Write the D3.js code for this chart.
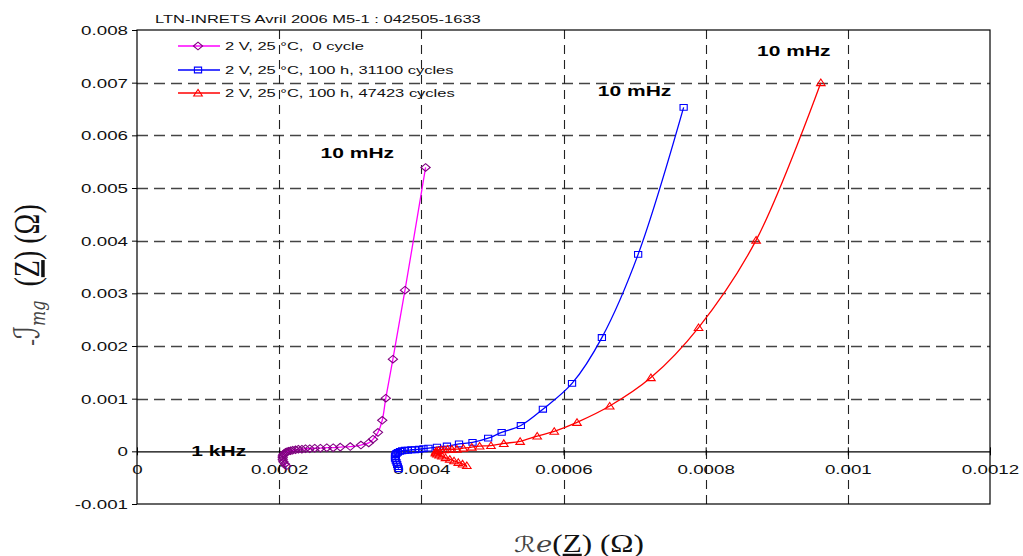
<!DOCTYPE html>
<html><head><meta charset="utf-8">
<script src="https://cdn.jsdelivr.net/npm/d3@7"></script>
<style>body{margin:0;background:#fff}svg{display:block}text{font-family:Arial,"Liberation Sans",sans-serif;white-space:pre}</style>
</head><body>
<script>
// ---- data ----
const chartTitle = "LTN-INRETS Avril 2006 M5-1 : 042505-1633";
const seriesNames = ["2 V, 25 °C,  0 cycle", "2 V, 25 °C, 100 h, 31100 cycles", "2 V, 25 °C, 100 h, 47423 cycles"];
const xTicks = [0, 0.0002, 0.0004, 0.0006, 0.0008, 0.001, 0.0012];
const xTickLabels = ["0", "0.0002", "0.0004", "0.0006", "0.0008", "0.001", "0.0012"];
const yTicks = [-0.001, 0, 0.001, 0.002, 0.003, 0.004, 0.005, 0.006, 0.007, 0.008];
const yTickLabels = ["-0.001", "0", "0.001", "0.002", "0.003", "0.004", "0.005", "0.006", "0.007", "0.008"];
// Re(Z), -Im(Z) in ohm, from 1 kHz to 10 mHz
const s0Re = [0.000210,0.000208,0.000206,0.000205,0.000205,0.000205,0.000206,0.000207,0.000209,0.000211,0.000213,0.000216,0.000219,0.000223,0.000227,0.000232,0.000237,0.000243,0.000250,0.000258,0.000267,0.000276,0.000286,0.000300,0.000315,0.000326,0.000332,0.000339,0.000345,0.000350,0.000360,0.000377,0.000406];
const s0Im = [-0.00028,-0.00024,-0.00020,-0.00016,-0.00012,-0.00009,-0.00006,-0.00004,-0.00002,-0.00001,0.00000,0.00001,0.00002,0.00003,0.00004,0.00004,0.00005,0.00005,0.00006,0.00006,0.00007,0.00007,0.00008,0.00009,0.00012,0.00016,0.00023,0.00036,0.00059,0.00101,0.00175,0.00306,0.00539];
const s1Re = [0.000368,0.000367,0.000366,0.000365,0.000364,0.000363,0.000363,0.000364,0.000365,0.000367,0.000370,0.000373,0.000377,0.000381,0.000386,0.000391,0.000397,0.000403,0.000410,0.000422,0.000436,0.000453,0.000472,0.000494,0.000513,0.000540,0.000571,0.000612,0.000654,0.000705,0.000769];
const s1Im = [-0.00033,-0.00029,-0.00025,-0.00021,-0.00017,-0.00013,-0.00009,-0.00006,-0.00004,-0.00002,0.00000,0.00001,0.00002,0.00002,0.00003,0.00003,0.00004,0.00005,0.00006,0.00008,0.00010,0.00014,0.00017,0.00025,0.00036,0.00049,0.00080,0.00129,0.00216,0.00374,0.00653];
const s2Re = [0.000464,0.000458,0.000452,0.000446,0.000440,0.000434,0.000429,0.000425,0.000422,0.000420,0.000420,0.000421,0.000424,0.000428,0.000432,0.000437,0.000443,0.000450,0.000459,0.000471,0.000482,0.000498,0.000516,0.000539,0.000563,0.000587,0.000619,0.000665,0.000723,0.000790,0.000871,0.000962];
const s2Im = [-0.00027,-0.00024,-0.00021,-0.00018,-0.00015,-0.00012,-0.00009,-0.00007,-0.00005,-0.00003,-0.00001,0.00001,0.00002,0.00003,0.00003,0.00004,0.00004,0.00004,0.00006,0.00008,0.00010,0.00011,0.00015,0.00019,0.00029,0.00038,0.00055,0.00086,0.00140,0.00235,0.00401,0.00700];
const annotations = [
  {text: "10 mHz", re: 0.000310, im: 0.00566},
  {text: "10 mHz", re: 0.000700, im: 0.00685},
  {text: "10 mHz", re: 0.000924, im: 0.00760},
  {text: "1 kHz", re: 0.000115, im: 0.0}
];

// ---- styles ----
const styles = [
  {line: "#ff00ff", mark: "#800080", shape: "diamond"},
  {line: "#0000ff", mark: "#0000ff", shape: "square"},
  {line: "#ff0000", mark: "#ff0000", shape: "triangle"}
];
const SX = 1.5; // horizontal stretch of the original picture

const W = 1023, H = 556;
const svg = d3.select("body").append("svg").attr("width", W).attr("height", H);
svg.append("rect").attr("width", W).attr("height", H).attr("fill", "#fff");

const x = d3.scaleLinear().domain([0, 0.0012]).range([137, 990]);
const y = d3.scaleLinear().domain([-0.001, 0.008]).range([504, 30]);

// gridlines
const grid = svg.append("g");
grid.selectAll("line.h").data(yTicks.filter(v => v !== 0 && v !== -0.001 && v !== 0.008)).join("line")
  .attr("x1", x(0)).attr("x2", x(0.0012)).attr("y1", d => Math.round(y(d)) + 0.5).attr("y2", d => Math.round(y(d)) + 0.5)
  .attr("stroke", "#444").attr("stroke-width", 1.4).attr("stroke-dasharray", "11,6");
grid.selectAll("line.v").data(xTicks.filter(v => v !== 0 && v !== 0.0012)).join("line")
  .attr("y1", y(0.008)).attr("y2", y(-0.001)).attr("x1", d => Math.round(x(d)) + 0.5).attr("x2", d => Math.round(x(d)) + 0.5)
  .attr("stroke", "#222").attr("stroke-width", 1.1).attr("stroke-dasharray", "9,6");

// frame
svg.append("rect").attr("x", x(0)).attr("y", y(0.008)).attr("width", x(0.0012) - x(0)).attr("height", y(-0.001) - y(0.008))
  .attr("fill", "none").attr("stroke", "#000").attr("stroke-width", 1.2);

// y axis
const yAxis = svg.append("g").attr("transform", `translate(${x(0)},0)`)
  .call(d3.axisLeft(y).tickValues(yTicks).tickSize(5).tickFormat((d, i) => yTickLabels[i]));
yAxis.select(".domain").remove();
yAxis.selectAll("line").attr("stroke", "#000");
yAxis.selectAll("text").attr("x", null).attr("dy", null)
  .attr("transform", `translate(-9,4.5) scale(${SX},1)`).attr("text-anchor", "end")
  .style("font-size", "12.5px").attr("fill", "#111");

// x axis at zero
const xAxis = svg.append("g").attr("transform", `translate(0,${y(0)})`)
  .call(d3.axisBottom(x).tickValues(xTicks).tickSize(4).tickSizeOuter(0).tickFormat((d, i) => xTickLabels[i]));
xAxis.select(".domain").attr("stroke", "#000").attr("stroke-width", 1.2);
xAxis.selectAll(".tick line").attr("y1", -4).attr("stroke", "#000");
xAxis.selectAll("text").attr("y", null).attr("dy", null)
  .attr("transform", `translate(0,23) scale(${SX},1)`).attr("text-anchor", "middle")
  .style("font-size", "12.5px").attr("fill", "#111");

// symbol paths
function sym(shape) {
  if (shape === "diamond") return "M0,-3.8L4.6,0L0,3.8L-4.6,0Z";
  if (shape === "square") return "M-3.6,-2.9H3.6V2.9H-3.6Z";
  return "M0,-3.6L4.3,3H-4.3Z";
}

const series = [[s0Re, s0Im], [s1Re, s1Im], [s2Re, s2Im]];
const line = d3.line().x(d => x(d[0])).y(d => y(d[1])).curve(d3.curveCatmullRom.alpha(0.5));
series.forEach((s, k) => {
  const pts = s[0].map((v, i) => [v, s[1][i]]);
  const g = svg.append("g");
  g.append("path").attr("d", line(pts)).attr("fill", "none").attr("stroke", styles[k].line).attr("stroke-width", 1.3);
  g.selectAll("path.m").data(pts).join("path").attr("class", "m")
    .attr("d", sym(styles[k].shape)).attr("transform", d => `translate(${x(d[0])},${y(d[1])})`)
    .attr("fill", "none").attr("stroke", styles[k].mark).attr("stroke-width", 1.1);
});

// title
svg.append("text").attr("transform", `translate(155,23) scale(${SX},1)`).style("font-size", "11px").attr("fill", "#111").text(chartTitle);

// legend
const legRows = [46, 70, 93];
seriesNames.forEach((n, k) => {
  const g = svg.append("g").attr("transform", `translate(0,${legRows[k]})`);
  g.append("line").attr("x1", 178).attr("x2", 220).attr("y1", 0).attr("y2", 0).attr("stroke", styles[k].line).attr("stroke-width", 1.3);
  g.append("path").attr("d", sym(styles[k].shape)).attr("transform", "translate(198,0)").attr("fill", "none").attr("stroke", styles[k].mark).attr("stroke-width", 1.1);
  g.append("text").attr("transform", `translate(225,4) scale(${SX},1)`).style("font-size", "11px").attr("fill", "#111").text(n);
});

// annotations
annotations.forEach(a => {
  svg.append("text").attr("transform", `translate(${x(a.re)},${y(a.im) + 5}) scale(${SX},1)`)
    .attr("text-anchor", "middle").style("font-size", "14px").style("font-weight", "bold").attr("fill", "#000").text(a.text);
});

// axis titles
const serif = '"Liberation Serif","DejaVu Serif",serif';
const xt = svg.append("text").attr("transform", `translate(579,552) scale(1.25,1)`).attr("text-anchor", "middle")
  .style("font-family", serif).style("font-size", "25px").attr("fill", "#111");
xt.append("tspan").style("font-family", '"DejaVu Serif","DejaVu Sans",serif').style("font-style", "italic").style("font-size", "22px").attr("fill", "#444").text("ℛe");
xt.append("tspan").text("(");
xt.append("tspan").style("text-decoration", "underline").text("Z");
xt.append("tspan").text(") (Ω)");

const yt = svg.append("text").attr("transform", `translate(39,275) scale(1.25,1) rotate(-90)`).attr("text-anchor", "middle")
  .style("font-family", serif).style("font-size", "28px").attr("fill", "#111");
yt.append("tspan").style("font-size", "20px").attr("fill", "#444").text("-");
yt.append("tspan").style("font-family", '"DejaVu Serif","DejaVu Sans",serif').style("font-style", "italic").style("font-size", "28px").attr("fill", "#444").text("ℐ");
yt.append("tspan").style("font-family", '"DejaVu Serif","DejaVu Sans",serif').style("font-style", "italic").style("font-size", "16px").attr("fill", "#444").attr("dy", 5).text("mg");
yt.append("tspan").attr("dy", -5).text("  (");
yt.append("tspan").style("text-decoration", "underline").text("Z");
yt.append("tspan").text(") (Ω)");
</script>
</body></html>
